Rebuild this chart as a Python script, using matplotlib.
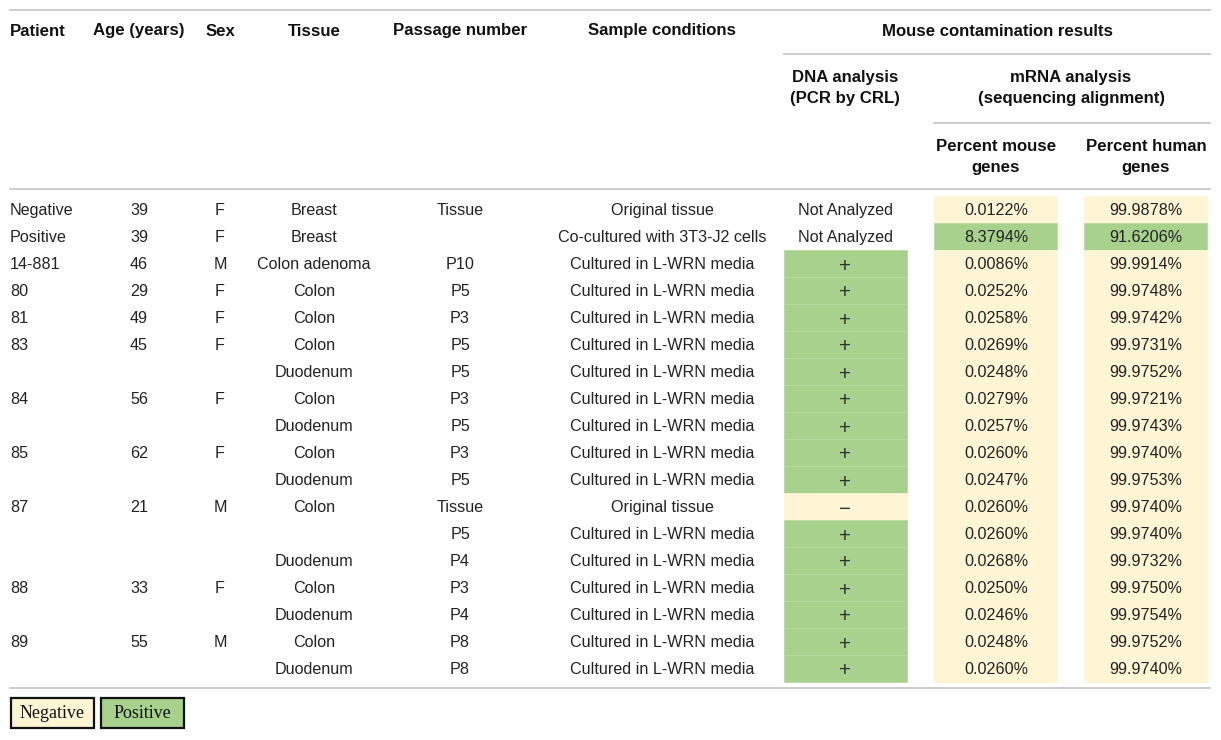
import matplotlib.pyplot as plt
from matplotlib.patches import Rectangle

# table contents
patients = ["Negative", "Positive", "14-881", "80", "81", "83", "", "84", "", "85", "", "87", "", "", "88", "", "89", ""]
ages = ["39", "39", "46", "29", "49", "45", "", "56", "", "62", "", "21", "", "", "33", "", "55", ""]
sexes = ["F", "F", "M", "F", "F", "F", "", "F", "", "F", "", "M", "", "", "F", "", "M", ""]
tissues = ["Breast", "Breast", "Colon adenoma", "Colon", "Colon", "Colon", "Duodenum", "Colon", "Duodenum",
           "Colon", "Duodenum", "Colon", "", "Duodenum", "Colon", "Duodenum", "Colon", "Duodenum"]
passages = ["Tissue", "", "P10", "P5", "P3", "P5", "P5", "P3", "P5", "P3", "P5", "Tissue", "P5", "P4",
            "P3", "P4", "P8", "P8"]
conditions = ["Original tissue", "Co-cultured with 3T3-J2 cells"] + ["Cultured in L-WRN media"] * 9 + \
             ["Original tissue"] + ["Cultured in L-WRN media"] * 6
dna = ["Not Analyzed", "Not Analyzed"] + ["+"] * 9 + ["\u2212"] + ["+"] * 6
mouse_pct = [0.0122, 8.3794, 0.0086, 0.0252, 0.0258, 0.0269, 0.0248, 0.0279, 0.0257, 0.0260, 0.0247,
             0.0260, 0.0260, 0.0268, 0.0250, 0.0246, 0.0248, 0.0260]
human_pct = [99.9878, 91.6206, 99.9914, 99.9748, 99.9742, 99.9731, 99.9752, 99.9721, 99.9743, 99.9740,
             99.9753, 99.9740, 99.9740, 99.9732, 99.9750, 99.9754, 99.9752, 99.9740]
# N = negative (yellow), P = positive (green), "" = no fill
dna_status = ["", ""] + ["P"] * 9 + ["N"] + ["P"] * 6
mrna_status = ["N", "P"] + ["N"] * 16

YELLOW = "#fdf5d3"
GREEN = "#a8d18d"
fills = {"N": YELLOW, "P": GREEN}
TXT = "#222222"
LINE = "#c8c8c8"

plt.rcParams["font.family"] = ["Liberation Sans", "DejaVu Sans"]

fig = plt.figure(figsize=(12.21, 7.40), dpi=100)
ax = fig.add_axes([0, 0, 1, 1])
ax.set_xlim(0, 1221)
ax.set_ylim(740, 0)
ax.axis("off")

fs = 11.6
hkw = dict(fontsize=12.1, fontweight="bold", color="#111111", va="center")

# header
ax.text(10, 31, "Patient", ha="left", **hkw)
col_x = [139, 220, 314, 460, 662]
for x, lab in zip(col_x, ["Age (years)", "Sex", "Tissue", "Passage number", "Sample conditions"]):
    ax.text(x, 31, lab, ha="center", **hkw)
ax.text(997, 31, "Mouse contamination results", ha="center", **hkw)
ax.text(845, 88, "DNA analysis\n(PCR by CRL)", ha="center", linespacing=1.55, **hkw)
ax.text(1071, 88, "mRNA analysis\n(sequencing alignment)", ha="center", linespacing=1.55, **hkw)
ax.text(996, 157, "Percent mouse\ngenes", ha="center", linespacing=1.55, **hkw)
ax.text(1146, 157, "Percent human\ngenes", ha="center", linespacing=1.55, **hkw)

# rules
ax.plot([10, 1210], [10, 10], color=LINE, lw=1.3)
ax.plot([784, 1210], [54, 54], color=LINE, lw=1.3)
ax.plot([934, 1210], [123, 123], color=LINE, lw=1.3)
ax.plot([10, 1210], [189, 189], color=LINE, lw=1.3)
ax.plot([10, 1210], [688, 688], color=LINE, lw=1.3)

# body
y0, dy = 209, 27
cells = [(784, 907), (934, 1057), (1084, 1207)]
bkw = dict(va="center_baseline", fontsize=fs, color=TXT)
for i in range(len(patients)):
    y = y0 + i * dy
    for st, (xa, xb) in zip([dna_status[i], mrna_status[i], mrna_status[i]], cells):
        if st:
            ax.add_patch(Rectangle((xa, y - 13.5), xb - xa, 27, facecolor=fills[st],
                                   edgecolor="#b8dba2" if st == "P" else fills[st], lw=0.6))
    ax.text(10, y, patients[i], ha="left", **bkw)
    for x, v in zip(col_x, [ages[i], sexes[i], tissues[i], passages[i], conditions[i]]):
        ax.text(x, y, v, ha="center", **bkw)
    if len(dna[i]) == 1:
        ax.text(845, y + 1, dna[i], ha="center", va="center_baseline", fontsize=fs + 3,
                color="#333333", fontweight="light")
    else:
        ax.text(845, y, dna[i], ha="center", **bkw)
    ax.text(996, y, f"{mouse_pct[i]:.4f}%", ha="center", **bkw)
    ax.text(1146, y, f"{human_pct[i]:.4f}%", ha="center", **bkw)

# legend
for (xa, w, lab, col) in [(11, 83, "Negative", YELLOW), (101, 83, "Positive", GREEN)]:
    ax.add_patch(Rectangle((xa, 698), w, 30, facecolor=col, edgecolor="#111111", lw=1.6))
    ax.text(xa + w / 2, 713, lab, ha="center", va="center", fontsize=13,
            family=["Liberation Serif", "DejaVu Serif"], color="#111111")

fig.savefig("out.png", dpi=100)
